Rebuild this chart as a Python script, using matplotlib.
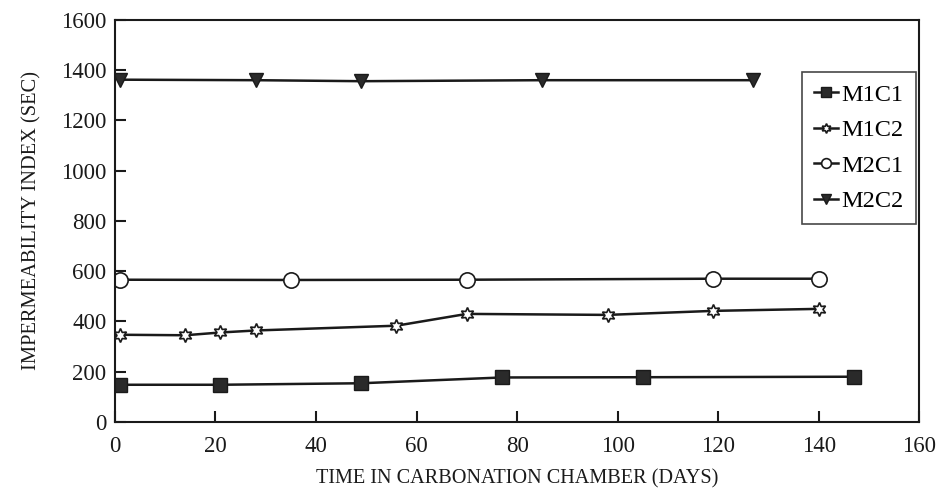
import matplotlib
matplotlib.use("Agg")
import matplotlib.pyplot as plt

plt.rcParams['font.family'] = ['Liberation Serif', 'DejaVu Serif']

m1c1_x = [1, 21, 49, 77, 105, 147]
m1c1_y = [148, 148, 154, 177, 178, 180]

m1c2_x = [1, 14, 21, 28, 56, 70, 98, 119, 140]
m1c2_y = [347, 345, 356, 364, 383, 430, 426, 442, 450]

m2c1_x = [1, 35, 70, 119, 140]
m2c1_y = [566, 565, 566, 570, 570]

m2c2_x = [1, 28, 49, 85, 127]
m2c2_y = [1362, 1360, 1356, 1360, 1360]

x_ticks = [0, 20, 40, 60, 80, 100, 120, 140, 160]
y_ticks = [0, 200, 400, 600, 800, 1000, 1200, 1400, 1600]

fig = plt.figure(figsize=(9.41, 4.97), dpi=100)
ax = fig.add_axes([0.122, 0.151, 0.855, 0.809])

lw = 1.8
ink = '#1a1a1a'
ax.plot(m1c1_x, m1c1_y, color=ink, lw=lw, marker='s', ms=10,
        mfc='#2a2a2a', mec=ink, label='M1C1')
ax.plot(m1c2_x, m1c2_y, color=ink, lw=lw, marker=(6, 1, 0), ms=10,
        mfc='white', mec=ink, mew=1.2, label='M1C2')
ax.plot(m2c1_x, m2c1_y, color=ink, lw=lw, marker='o', ms=11,
        mfc='white', mec=ink, mew=1.2, label='M2C1')
ax.plot(m2c2_x, m2c2_y, color=ink, lw=lw, marker='v', ms=10,
        mfc='#2a2a2a', mec=ink, label='M2C2')

ax.set_xlim(0, 160)
ax.set_ylim(0, 1600)
ax.set_xticks(x_ticks)
ax.set_yticks(y_ticks)
ax.tick_params(axis='both', direction='in', length=8, width=1.5,
               labelsize=16.5, colors=ink, top=False, right=False)
ax.tick_params(axis='x', pad=10)
ax.tick_params(axis='y', pad=6)
for s in ax.spines.values():
    s.set_linewidth(1.5)
    s.set_color(ink)

ax.set_xlabel('TIME IN CARBONATION CHAMBER (DAYS)', fontsize=14.6, color=ink, labelpad=9)
ax.set_ylabel('IMPERMEABILITY INDEX (SEC)', fontsize=14.8, color=ink, labelpad=14)

leg = ax.legend(loc='upper right', bbox_to_anchor=(0.996, 0.871), fontsize=17.5,
                handlelength=1.0, handletextpad=0.15, borderpad=0.5,
                labelspacing=0.55, fancybox=False, frameon=True, borderaxespad=0.0)
leg.get_frame().set_edgecolor(ink)
leg.get_frame().set_linewidth(1.2)
for h in leg.legend_handles:
    h.set_markersize(7)

fig.savefig('out.png', dpi=100, facecolor='white')
